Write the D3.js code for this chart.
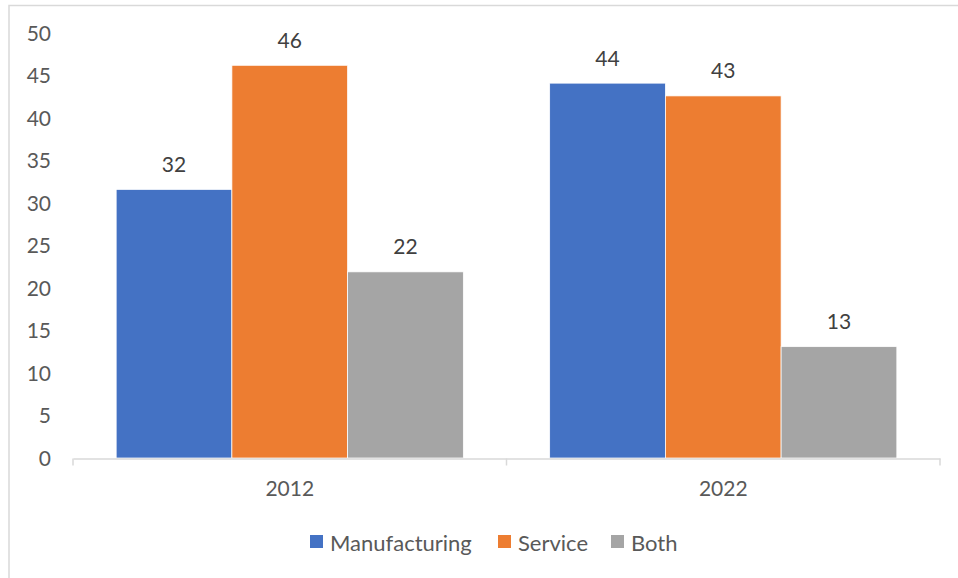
<!DOCTYPE html>
<html>
<head>
<meta charset="utf-8">
<script src="https://cdn.jsdelivr.net/npm/d3@7"></script>
<style>
  html, body { margin: 0; padding: 0; background: #fff; }
  svg { display: block; font-family: Lato, "Open Sans", sans-serif; }
</style>
</head>
<body>
<svg id="chart" width="958" height="578"></svg>
<script>
const categories = ["2012", "2022"];
const seriesNames = ["Manufacturing", "Service", "Both"];
const manufacturing = [31.6, 44.1];
const service = [46.2, 42.6];
const both = [21.9, 13.1];
const yTicks = [0, 5, 10, 15, 20, 25, 30, 35, 40, 45, 50];
const colors = ["#4472C4", "#ED7D31", "#A5A5A5"];

const seriesValues = [manufacturing, service, both];
const data = categories.map((c, i) => ({
  category: c,
  values: seriesNames.map((s, j) => ({ series: s, value: seriesValues[j][i] }))
}));

const svg = d3.select("#chart");

// chart frame
svg.append("rect")
  .attr("x", 9).attr("y", 5.5)
  .attr("width", 1000).attr("height", 1000)
  .attr("fill", "none").attr("stroke", "#d9d9d9").attr("stroke-width", 1.5);

const x0 = d3.scaleBand().domain(categories).range([73, 940]).paddingInner(0).paddingOuter(0);
const x1 = d3.scaleBand().domain(seriesNames).range([0, x0.bandwidth()]).paddingOuter(0.373).paddingInner(0);
const y = d3.scaleLinear().domain([0, 50]).range([458, 33]);
const color = d3.scaleOrdinal().domain(seriesNames).range(colors);

// y axis labels (no line)
const yAxis = d3.axisLeft(y).tickValues(yTicks).tickSize(0).tickPadding(0);
const yg = svg.append("g").attr("transform", "translate(51,0)").call(yAxis);
yg.select(".domain").remove();
yg.selectAll("text")
  .attr("fill", "#595959").style("font-size", "21px")
  .attr("font-family", "Lato, 'Open Sans', sans-serif")
  .attr("dy", "0.35em").attr("x", 0);

// bars
const groups = svg.append("g").selectAll("g").data(data).join("g")
  .attr("transform", d => `translate(${x0(d.category)},0)`);

groups.selectAll("rect").data(d => d.values).join("rect")
  .attr("x", d => x1(d.series))
  .attr("y", d => y(d.value))
  .attr("width", x1.bandwidth())
  .attr("height", d => y(0) - y(d.value))
  .attr("fill", d => color(d.series))
  .attr("stroke", "#fff").attr("stroke-width", 0.75);

groups.selectAll("text").data(d => d.values).join("text")
  .attr("x", d => x1(d.series) + x1.bandwidth() / 2)
  .attr("y", d => y(d.value) - 26)
  .attr("text-anchor", "middle")
  .attr("dominant-baseline", "central")
  .attr("fill", "#404040").style("font-size", "21px")
  .text(d => d3.format(".0f")(d.value));

// x axis
const xAxis = d3.axisBottom(x0).tickSize(0).tickPadding(0);
const xg = svg.append("g").attr("transform", "translate(0,458.5)").call(xAxis);
xg.select(".domain").attr("stroke", "#d9d9d9").attr("stroke-width", 1.5);
xg.selectAll(".tick text")
  .attr("fill", "#595959").style("font-size", "21px")
  .attr("font-family", "Lato, 'Open Sans', sans-serif")
  .attr("y", 30).attr("dy", "0.35em");
// category boundary ticks
const boundaries = [x0.range()[0], ...categories.map(c => x0(c) + x0.bandwidth())];
xg.selectAll(".bound").data(boundaries).join("line")
  .attr("class", "bound")
  .attr("x1", d => d).attr("x2", d => d)
  .attr("y1", 0).attr("y2", 7)
  .attr("stroke", "#d9d9d9").attr("stroke-width", 1.5);

// legend
const legendX = [310, 498, 611];
const legend = svg.append("g").selectAll("g").data(seriesNames).join("g")
  .attr("transform", (d, i) => `translate(${legendX[i]},535)`);
legend.append("rect").attr("width", 13).attr("height", 13).attr("fill", d => color(d));
legend.append("text")
  .attr("x", 20).attr("y", 7)
  .attr("dominant-baseline", "central")
  .attr("fill", "#595959").style("font-size", "22px")
  .text(d => d);
</script>
</body>
</html>
